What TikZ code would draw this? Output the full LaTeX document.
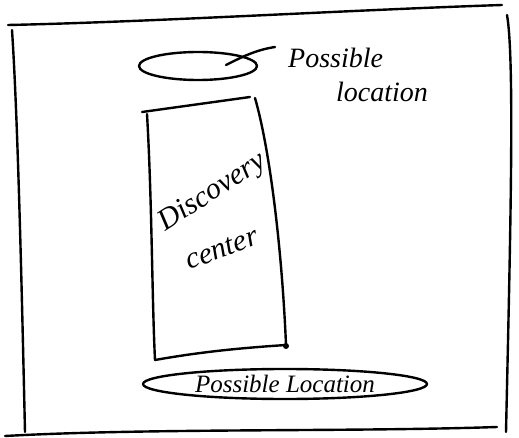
\documentclass[tikz,border=0pt]{standalone}
\usepackage{fontspec}
\setmainfont{Liberation Serif}
\usetikzlibrary{shapes.geometric}
\begin{document}
\begin{tikzpicture}[x=1pt,y=-1pt,
  ink/.style={draw=black,line width=2.4pt,line cap=round,line join=round},
  hand/.style={font=\itshape\fontsize{28}{30}\selectfont,inner sep=0pt}]
\useasboundingbox[fill=white] (0,0) rectangle (519,438);
% outer frame
\draw[ink] (8,25) .. controls (150,22) and (350,10) .. (502,5);
\draw[ink] (507,15) .. controls (515,60) and (510,250) .. (506,432);
\draw[ink] (5,436) .. controls (150,428) and (350,432) .. (497,427);
\draw[ink] (12,30) .. controls (18,120) and (22,300) .. (25,432);
% top possible location
\node[ink,ellipse,minimum width=118pt,minimum height=28pt] (top) at (198,66) {};
\coordinate (tip) at (275,47);
\draw[ink] (226,65) .. controls (240,58) and (255,50) .. (tip);
\node[hand,anchor=west] (toplab1) at (288,58) {Possible};
\node[hand,anchor=west] (toplab2) at (336,92) {location};
% building
\draw[ink] (142,112) -- (250,97);
\draw[ink] (255,98) .. controls (270,150) and (282,250) .. (286,345);
\draw[ink] (286,345) .. controls (240,348) and (200,352) .. (155,360);
\draw[ink] (147,114) .. controls (152,200) and (152,300) .. (155,360);
\fill (286,346) circle (3pt);
\node[hand,rotate=33,font=\itshape\fontsize{30}{32}\selectfont] (disc) at (213,193) {Discovery};
\node[hand,rotate=20,font=\itshape\fontsize{30}{32}\selectfont] (cent) at (222,249) {center};
% bottom possible location
\node[ink,ellipse,minimum width=284pt,minimum height=30pt,hand,font=\itshape\fontsize{25}{27}\selectfont] (bot) at (285,384) {Possible Location};
\end{tikzpicture}
\end{document}
